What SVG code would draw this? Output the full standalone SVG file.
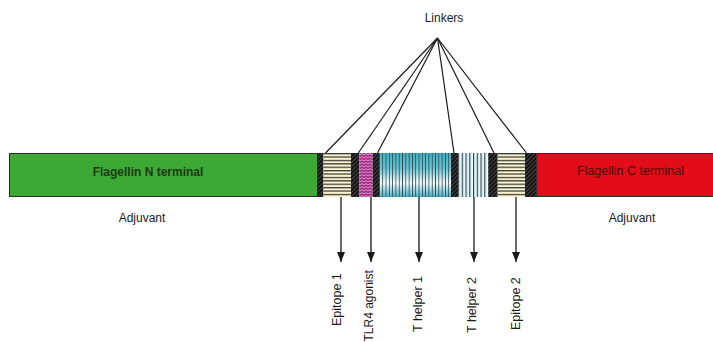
<svg xmlns="http://www.w3.org/2000/svg" width="713" height="342" viewBox="0 0 713 342">
  <style>
    .lbl { font-family: "Liberation Sans", Arial, sans-serif; font-size: 12px; fill: #1a1a1a; }
    .vlbl { font-family: "Liberation Sans", Arial, sans-serif; font-size: 12.5px; fill: #1a1a1a; }
    .title-n { font-family: "Liberation Sans", Arial, sans-serif; font-size: 12px; font-weight: bold; fill: #1d3a14; }
    .title-c { font-family: "Liberation Sans", Arial, sans-serif; font-size: 12.5px; fill: #4a0505; }
    .link { stroke: #1a1a1a; stroke-width: 1.2; fill: none; }
    .arrow { stroke: #1a1a1a; stroke-width: 1.3; fill: none; marker-end: url(#head); }
    .edge { stroke: #2b2b2b; stroke-width: 1; }
  </style>
  <defs>
    <!-- filled arrowhead, tip at the end of the line -->
    <marker id="head" markerWidth="10" markerHeight="8" refX="10" refY="4" orient="auto" markerUnits="userSpaceOnUse" viewBox="0 0 10 8">
      <path d="M0,0 L10,4 L0,8 Z" fill="#1a1a1a"/>
    </marker>
    <!-- dark hatched linker blocks -->
    <pattern id="linkerHatch" width="3" height="3" patternUnits="userSpaceOnUse" patternTransform="rotate(45)">
      <rect width="3" height="3" fill="#141414"/>
      <rect width="1" height="3" fill="#454545"/>
    </pattern>
    <!-- horizontal stripes on pale yellow -->
    <pattern id="epiStripes" width="6" height="3.4" patternUnits="userSpaceOnUse">
      <rect width="6" height="3.4" fill="#fbf7cd"/>
      <rect width="6" height="1.3" fill="#3a3a3a"/>
    </pattern>
    <!-- magenta weave -->
    <pattern id="tlrWeave" width="4" height="3" patternUnits="userSpaceOnUse">
      <rect width="4" height="3" fill="#a22d86"/>
      <path d="M0,2 L2,0.6 L4,2" stroke="#e6a6d8" stroke-width="0.9" fill="none"/>
    </pattern>
    <linearGradient id="cyanFade" x1="0" y1="0" x2="0" y2="1">
      <stop offset="0" stop-color="#3fb0c6"/>
      <stop offset="0.35" stop-color="#68c4d5"/>
      <stop offset="0.68" stop-color="#f4fcfd"/>
      <stop offset="1" stop-color="#3fb0c6"/>
    </linearGradient>
    <pattern id="darkLines" width="3.3" height="10" patternUnits="userSpaceOnUse" x="379">
      <rect width="0.8" height="10" fill="#34454a"/>
    </pattern>
    <linearGradient id="paleCyan" x1="0" y1="0" x2="1" y2="0">
      <stop offset="0" stop-color="#9fd8e6"/>
      <stop offset="1" stop-color="#ffffff"/>
    </linearGradient>
    <pattern id="th2Lines" width="3.75" height="10" patternUnits="userSpaceOnUse" x="458">
      <rect width="3.75" height="10" fill="url(#paleCyan)"/>
      <rect width="1" height="10" fill="#2e3a3d"/>
    </pattern>
  </defs>

  <rect width="713" height="342" fill="#ffffff"/>

  <!-- linker fan and pointer arrows -->
  <g id="connectors">
    <line class="link" x1="437.5" y1="38" x2="325.5" y2="153"/>
    <line class="link" x1="437.5" y1="38" x2="358.3" y2="153"/>
    <line class="link" x1="437.5" y1="38" x2="377.5" y2="153"/>
    <line class="link" x1="437.5" y1="38" x2="454" y2="153"/>
    <line class="link" x1="437.5" y1="38" x2="494" y2="153"/>
    <line class="link" x1="437.5" y1="38" x2="526.5" y2="153"/>
    <line class="arrow" x1="341" y1="197" x2="341" y2="262"/>
    <line class="arrow" x1="371" y1="197" x2="371" y2="262"/>
    <line class="arrow" x1="419" y1="197" x2="419" y2="262"/>
    <line class="arrow" x1="474" y1="197" x2="474" y2="262"/>
    <line class="arrow" x1="516" y1="197" x2="516" y2="262"/>
  </g>

  <g id="linkers-label">
    <text class="lbl" x="444" y="22" text-anchor="middle">Linkers</text>
  </g>

  <g id="flagellin-n">
    <rect x="9.5" y="153.5" width="308" height="43" fill="#3da935" class="edge"/>
    <text class="title-n" x="148" y="176" text-anchor="middle">Flagellin N terminal</text>
    <text class="lbl" x="142" y="222" text-anchor="middle">Adjuvant</text>
  </g>

  <g id="linker-1"><rect x="317" y="153" width="6.5" height="44" fill="url(#linkerHatch)"/></g>

  <g id="epitope-1">
    <rect x="323.5" y="153" width="27.5" height="44" fill="url(#epiStripes)"/>
    <text class="vlbl" transform="translate(341,326) rotate(-90)">Epitope 1</text>
  </g>

  <g id="linker-2"><rect x="351" y="153" width="8.3" height="44" fill="url(#linkerHatch)"/></g>

  <g id="tlr4-agonist">
    <rect x="359.3" y="153" width="13.4" height="44" fill="url(#tlrWeave)"/>
    <text class="lbl" transform="translate(373,341.5) rotate(-90)">TLR4 agonist</text>
  </g>

  <g id="linker-3"><rect x="372.7" y="153" width="6.3" height="44" fill="url(#linkerHatch)"/></g>

  <g id="t-helper-1">
    <rect x="379" y="153" width="72" height="44" fill="url(#cyanFade)"/>
    <rect x="379" y="153" width="72" height="44" fill="url(#darkLines)"/>
    <text class="vlbl" transform="translate(421.5,332) rotate(-90)">T helper 1</text>
  </g>

  <g id="linker-4"><rect x="451" y="153" width="7.3" height="44" fill="url(#linkerHatch)"/></g>

  <g id="t-helper-2">
    <rect x="458.3" y="153" width="30" height="44" fill="url(#th2Lines)"/>
    <text class="vlbl" transform="translate(476,333) rotate(-90)">T helper 2</text>
  </g>

  <g id="linker-5"><rect x="488.3" y="153" width="9.4" height="44" fill="url(#linkerHatch)"/></g>

  <g id="epitope-2">
    <rect x="497.7" y="153" width="27.3" height="44" fill="url(#epiStripes)"/>
    <text class="vlbl" transform="translate(519.5,330) rotate(-90)">Epitope 2</text>
  </g>

  <g id="linker-6"><rect x="525" y="153" width="11.7" height="44" fill="url(#linkerHatch)"/></g>

  <g id="flagellin-c">
    <rect x="536.7" y="153.5" width="177" height="43" fill="#e20d18" class="edge"/>
    <text class="title-c" x="630.5" y="174.5" text-anchor="middle">Flagellin C terminal</text>
    <text class="lbl" x="632" y="221.5" text-anchor="middle">Adjuvant</text>
  </g>
</svg>
